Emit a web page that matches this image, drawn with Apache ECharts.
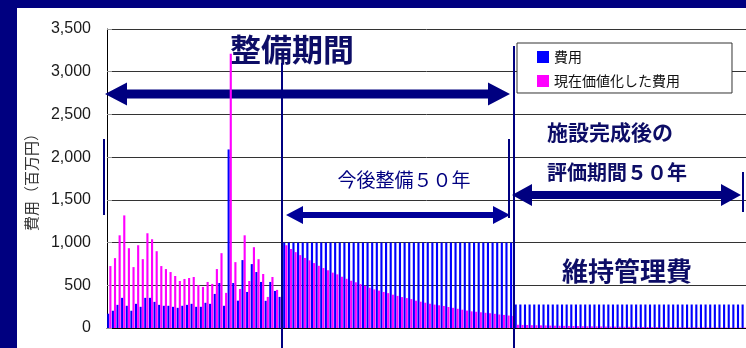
<!DOCTYPE html>
<html>
<head>
<meta charset="utf-8">
<script src="https://cdn.jsdelivr.net/npm/echarts@6/dist/echarts.min.js"></script>
<style>
  html, body { margin: 0; padding: 0; background: #fff; }
  #chart { width: 746px; height: 348px; }
</style>
</head>
<body>
<div id="chart"></div>
<script>
// yearly cost (million yen): past construction, next 50 years, 50 years after completion
const costPast = [167, 202, 271, 353, 260, 202, 283, 248, 353, 353,
  306, 271, 260, 260, 248, 236, 260, 271, 283, 248,
  248, 295, 283, 399, 527, 260, 2090, 527, 320, 795,
  422, 748, 655, 539, 318, 539, 434, 364];
const costBuild = [1000, 1000, 1000, 1000, 1000, 1000, 1000, 1000, 1000, 1000,
  1000, 1000, 1000, 1000, 1000, 1000, 1000, 1000, 1000, 1000,
  1000, 1000, 1000, 1000, 1000, 1000, 1000, 1000, 1000, 1000,
  1000, 1000, 1000, 1000, 1000, 1000, 1000, 1000, 1000, 1000,
  1000, 1000, 1000, 1000, 1000, 1000, 1000, 1000, 1000, 1000];
const costMaint = [275, 275, 275, 275, 275, 275, 275, 275, 275, 275,
  275, 275, 275, 275, 275, 275, 275, 275, 275, 275,
  275, 275, 275, 275, 275, 275, 275, 275, 275, 275,
  275, 275, 275, 275, 275, 275, 275, 275, 275, 275,
  275, 275, 275, 275, 275, 275, 275, 275, 275, 275];

// present value of the same costs
const pvPast = [725, 818, 1085, 1318, 934, 713, 969, 806, 1109, 1039,
  899, 725, 690, 655, 609, 550, 574, 585, 597, 504,
  481, 539, 516, 690, 876, 411, 3210, 771, 457, 1085,
  550, 946, 806, 632, 364, 597, 446, 364];
const pvBuild = [969, 925, 888, 853, 820, 792, 760, 728, 702, 676,
  648, 628, 600, 576, 553, 535, 514, 494, 472, 452,
  438, 422, 408, 390, 376, 362, 350, 338, 320, 308,
  296, 284, 274, 266, 258, 246, 236, 225, 214, 204,
  195, 190, 184, 178, 173, 166, 158, 153, 146, 141];
const pvMaint = [38, 36, 35, 33, 32, 31, 30, 28, 27, 26,
  25, 24, 23, 22, 21, 20, 19, 19, 18, 17,
  16, 16, 15, 14, 14, 13, 13, 12, 12, 11,
  11, 10, 10, 9, 9, 9, 8, 8, 8, 7,
  7, 7, 6, 6, 6, 6, 5, 5, 5, 5];

const seriesNames = ['費用', '現在価値化した費用'];
const yTicks = [0, 500, 1000, 1500, 2000, 2500, 3000, 3500];

const cost = costPast.concat(costBuild, costMaint);
const pv = pvPast.concat(pvBuild, pvMaint);
const categories = cost.map((_, i) => String(i + 1));

const navy = '#000080';
const jp = '"Noto Sans CJK JP", sans-serif';

// double headed arrow as a polygon
function arrow(x1, x2, y, shaft, head, headLen, color) {
  const s = shaft / 2, h = head / 2;
  return {
    type: 'polygon',
    z: 1,
    shape: {
      points: [
        [x1, y], [x1 + headLen, y - h], [x1 + headLen, y - s],
        [x2 - headLen, y - s], [x2 - headLen, y - h], [x2, y],
        [x2 - headLen, y + h], [x2 - headLen, y + s],
        [x1 + headLen, y + s], [x1 + headLen, y + h]
      ]
    },
    style: { fill: color }
  };
}

function vline(x, y1, y2, z) {
  return {
    type: 'line',
    z: z,
    shape: { x1: x, y1: y1, x2: x, y2: y2 },
    style: { stroke: navy, lineWidth: 2 }
  };
}

function label(text, x, y, font, align, color) {
  return {
    type: 'text',
    z: 1,
    x: x,
    y: y,
    style: {
      text: text,
      font: font,
      fill: color || '#0d0d66',
      align: align || 'center',
      textAlign: align || 'center',
      verticalAlign: 'middle',
      textVerticalAlign: 'middle'
    }
  };
}

const chart = echarts.init(document.getElementById('chart'));

const option = {
  backgroundColor: '#fff',
  animation: false,
  grid: { left: 107, right: 0, top: 29, bottom: 20 },
  legend: {
    data: seriesNames,
    orient: 'vertical',
    left: 517,
    top: 43,
    padding: [7, 52, 5, 20],
    itemGap: 10,
    itemWidth: 12,
    itemHeight: 12,
    icon: 'rect',
    backgroundColor: '#fff',
    borderColor: '#333',
    borderWidth: 1,
    borderRadius: 0,
    textStyle: { fontFamily: jp, fontSize: 14, color: '#111' }
  },
  xAxis: {
    type: 'category',
    data: categories,
    axisLine: { lineStyle: { color: '#000', width: 1 } },
    axisTick: { show: false },
    axisLabel: { show: false }
  },
  yAxis: {
    type: 'value',
    min: yTicks[0],
    max: yTicks[yTicks.length - 1],
    interval: 500,
    name: '費用（百万円）',
    nameLocation: 'middle',
    nameGap: 68,
    nameTextStyle: { fontFamily: jp, fontSize: 15, color: '#333' },
    axisLine: { show: true, lineStyle: { color: '#000', width: 1 } },
    axisTick: { show: true, inside: true, length: 5, lineStyle: { color: '#999' } },
    axisLabel: {
      fontFamily: '"Liberation Sans", Arial, sans-serif',
      fontSize: 16,
      color: '#1a1a1a',
      margin: 16,
      formatter: v => v.toLocaleString('en-US')
    },
    splitLine: { lineStyle: { color: '#333', width: 1 } }
  },
  series: [
    {
      name: seriesNames[0],
      type: 'bar',
      data: cost,
      barGap: '0%',
      barCategoryGap: '8%',
      itemStyle: { color: '#0000ff' }
    },
    {
      name: seriesNames[1],
      type: 'bar',
      data: pv,
      itemStyle: { color: '#ff00ff' }
    }
  ],
  graphic: [
    // navy frame around the slide
    { type: 'rect', z: 100, shape: { x: 0, y: 0, width: 17, height: 348 }, style: { fill: navy } },
    { type: 'rect', z: 100, shape: { x: 0, y: 0, width: 746, height: 8 }, style: { fill: navy } },

    label('整備期間', 292, 49, 'bold 31px ' + jp),
    arrow(105, 510, 94, 9, 23, 22, navy),

    vline(282, 63, 348, 10),
    vline(514, 46, 348, 10),
    vline(104, 139, 215, 10),
    vline(509, 139, 218, 10),
    vline(743, 172, 212, 10),

    label('今後整備５０年', 404, 180, '19px ' + jp, 'center', '#000080'),
    arrow(286, 510, 215, 6, 18, 17, '#000099'),

    label('施設完成後の', 547, 132, 'bold 21px ' + jp, 'left'),
    label('評価期間５０年', 547, 172, 'bold 20px ' + jp, 'left'),
    arrow(512, 741, 195, 8, 22, 20, navy),

    label('維持管理費', 627, 271, 'bold 26px ' + jp)
  ]
};

chart.setOption(option);
</script>
</body>
</html>
